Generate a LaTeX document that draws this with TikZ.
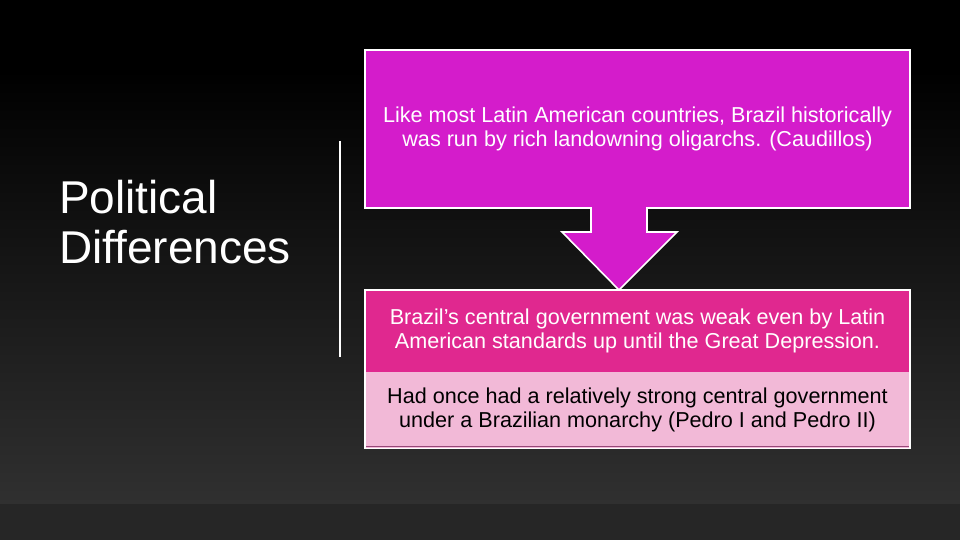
\documentclass[tikz,border=0pt]{standalone}
\usepackage{fontspec}
\setmainfont{Liberation Sans}
\usetikzlibrary{calc}
\definecolor{topmag}{RGB}{212,28,203}
\definecolor{midpink}{RGB}{224,40,143}
\definecolor{lowpink}{RGB}{242,185,215}
\definecolor{lineplum}{RGB}{150,70,120}
\definecolor{bgbot}{RGB}{48,48,48}
\definecolor{bgband}{RGB}{38,38,38}
\tikzset{
  box/.style={rectangle, minimum width=545pt, inner sep=0pt, align=center, font=\fontsize{21.6}{24}\selectfont},
  boxline/.style={draw=white, line width=1.6pt},
  title/.style={anchor=north west, align=left, inner sep=0pt, text=white, font=\fontsize{46}{50}\selectfont},
  arrowfill/.style={fill=topmag},
  arrowedge/.style={draw=white, line width=1.6pt, line join=miter},
}
\begin{document}
\begin{tikzpicture}[x=1pt,y=-1pt]
\useasboundingbox (0,0) rectangle (960,540);
% background
\fill[black] (0,0) rectangle (960,70);
\shade[top color=black, bottom color=bgbot] (0,70) rectangle (960,504);
\fill[bgband] (0,504) rectangle (960,540);
% title
\node[title] (ttl) at (59,180) {Political\\Differences};
% vertical rule
\coordinate (vt) at (340,141);
\coordinate (vb) at (340,357);
\draw[white, line width=2pt] (vt) -- (vb);
% arrow (drawn first; the shaft merges into the top box)
\coordinate (as) at (619,208);
\coordinate (ae) at (619,290);
\fill[arrowfill] ($(as)+(-28,-2)$) -- ($(as)+(-28,24)$) -- ($(as)+(-57,24)$) -- (ae) -- ($(as)+(58,24)$) -- ($(as)+(28,24)$) -- ($(as)+(28,-2)$) -- cycle;
% top box
\node[box, boxline, fill=topmag, minimum height=158pt, text=white] (top) at (637.5,129) {Like most Latin American countries, Brazil historically\\was run by rich landowning oligarchs. (Caudillos)};
\fill[topmag] ($(as)+(-27.2,-1)$) rectangle ($(as)+(27.2,2)$);
\draw[arrowedge] ($(as)+(-28,0)$) -- ($(as)+(-28,24)$) -- ($(as)+(-57,24)$) -- (ae) -- ($(as)+(58,24)$) -- ($(as)+(28,24)$) -- ($(as)+(28,0)$);
% lower boxes
\node[box, fill=midpink, minimum height=82pt, text=white] (mid) at (637.5,331) {Brazil’s central government was weak even by Latin\\American standards up until the Great Depression.};
\node[box, fill=lowpink, minimum height=76pt, text=black, anchor=north] (low) at (mid.south) {Had once had a relatively strong central government\\under a Brazilian monarchy (Pedro I and Pedro II)};
\draw[lineplum, line width=1pt] ($(low.south west)+(1.5,-2.5)$) -- ($(low.south east)+(-1.5,-2.5)$);
\draw[boxline] (mid.north west) rectangle (low.south east);
\end{tikzpicture}
\end{document}
